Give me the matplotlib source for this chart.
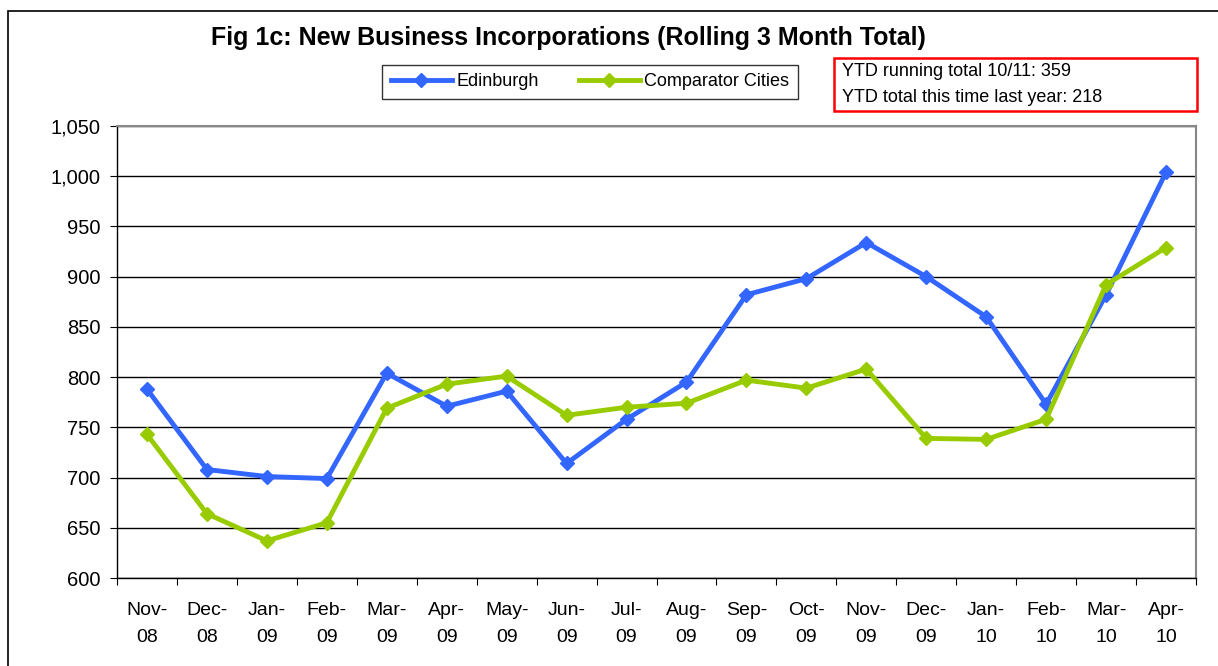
import numpy as np
import matplotlib.pyplot as plt
from matplotlib.patches import Rectangle

plt.rcParams['font.family'] = ['Liberation Sans', 'DejaVu Sans']

months = ["Nov-\n08", "Dec-\n08", "Jan-\n09", "Feb-\n09", "Mar-\n09", "Apr-\n09",
          "May-\n09", "Jun-\n09", "Jul-\n09", "Aug-\n09", "Sep-\n09", "Oct-\n09",
          "Nov-\n09", "Dec-\n09", "Jan-\n10", "Feb-\n10", "Mar-\n10", "Apr-\n10"]
edinburgh = [788, 708, 701, 699, 804, 771, 786, 714, 758, 795,
             882, 898, 934, 900, 860, 773, 882, 1004]
comparator = [743, 664, 637, 655, 769, 793, 801, 762, 770, 774,
              797, 789, 808, 739, 738, 758, 892, 929]
yticks = [600, 650, 700, 750, 800, 850, 900, 950, 1000, 1050]

W, H = 1218, 666
fig = plt.figure(figsize=(W / 100, H / 100), dpi=100)
ax = fig.add_axes([117 / W, 1 - 578 / H, (1196 - 117) / W, (578 - 126) / H])

# outer chart frame
fig.patches.append(Rectangle((8 / W, -0.1), 1.2, 1 - 11 / H + 0.1, transform=fig.transFigure,
                             fill=False, edgecolor='black', linewidth=1.2))

x = np.arange(len(months))
ax.plot(x, edinburgh, color='#3366FF', linewidth=3.5, marker='D', markersize=7,
        label='Edinburgh', zorder=3)
ax.plot(x, comparator, color='#99CC00', linewidth=3.5, marker='D', markersize=7,
        label='Comparator Cities', zorder=3)

ax.set_xlim(-0.5, len(months) - 0.5)
ax.set_ylim(600, 1050)
ax.set_yticks(yticks)
ax.set_yticklabels([f'{v:,}' for v in yticks], fontsize=14.5)
ax.set_xticks(np.arange(-0.5, len(months), 1))
ax.set_xticklabels([])
ax.set_xticks(x, minor=True)
ax.set_xticklabels(months, minor=True, fontsize=14, linespacing=1.8)
ax.tick_params(axis='x', which='minor', length=0, pad=17)
ax.tick_params(axis='x', which='major', length=5, direction='out', color='black')
ax.tick_params(axis='y', length=5, direction='out', pad=7)
ax.yaxis.grid(True, color='black', linewidth=1)
ax.set_axisbelow(True)
for s in ['top', 'right']:
    ax.spines[s].set_color('#888888')
    ax.spines[s].set_linewidth(1.5)
for s in ['left', 'bottom']:
    ax.spines[s].set_color('black')
    ax.spines[s].set_linewidth(1)

fig.text(568 / W, 1 - 38 / H, 'Fig 1c: New Business Incorporations (Rolling 3 Month Total)',
         fontsize=18, fontweight='bold', ha='center', va='center')

leg = fig.legend(loc='center', bbox_to_anchor=(590 / W, 1 - 82 / H), ncol=2,
                 fontsize=13, frameon=True, fancybox=False, edgecolor='black',
                 handlelength=3.4, columnspacing=2.2, borderpad=0.45, borderaxespad=0,
                 handletextpad=0.25)
leg.get_frame().set_linewidth(1)

fig.patches.append(Rectangle((834 / W, 1 - 111 / H), (1197 - 834) / W, (111 - 58) / H,
                             transform=fig.transFigure, fill=False, edgecolor='red', linewidth=1.8))
fig.text(842 / W, 1 - 72 / H, 'YTD running total 10/11: 359', fontsize=13, va='center')
fig.text(842 / W, 1 - 97 / H, 'YTD total this time last year: 218', fontsize=13, va='center')

fig.savefig('out.png', dpi=100)
